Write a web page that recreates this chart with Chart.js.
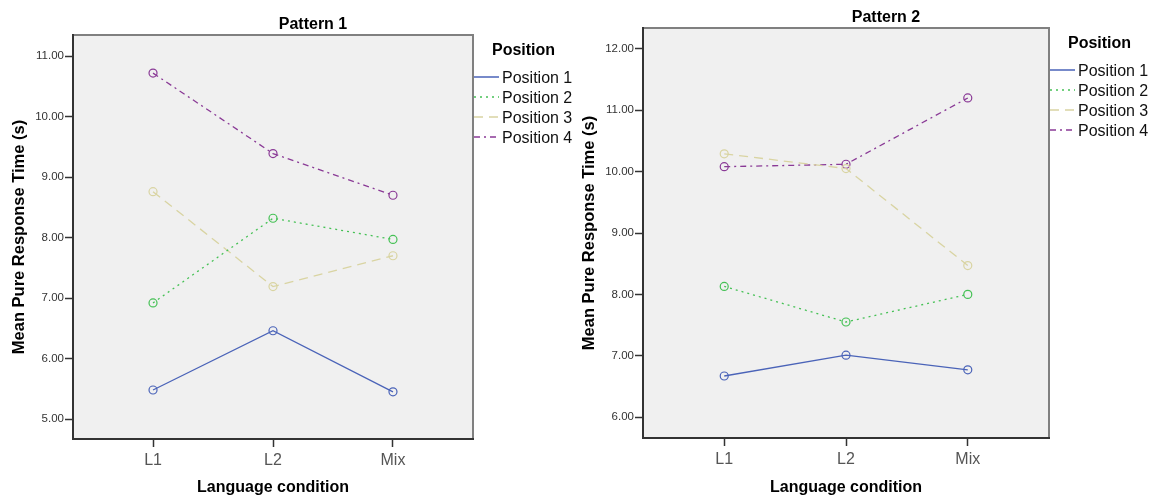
<!DOCTYPE html>
<html>
<head>
<meta charset="utf-8">
<script src="https://cdn.jsdelivr.net/npm/chart.js@4.4.0/dist/chart.umd.min.js"></script>
<style>
  html, body { margin: 0; padding: 0; background: #fff; overflow: hidden; }
  .box { position: absolute; top: 0; height: 497px; }
</style>
</head>
<body>
<div class="box" style="left:0;width:590px"><canvas id="chart1" width="590" height="497"></canvas></div>
<div class="box" style="left:570px;width:583px"><canvas id="chart2" width="583" height="497"></canvas></div>
<script>
// Veriler
const kosullar = ['L1', 'L2', 'Mix'];
const pozisyonlar = ['Position 1', 'Position 2', 'Position 3', 'Position 4'];

// Pattern 1
const p1_pos1 = [5.48, 6.46, 5.45];
const p1_pos2 = [6.92, 8.32, 7.97];
const p1_pos3 = [8.76, 7.19, 7.70];
const p1_pos4 = [10.72, 9.39, 8.70];

// Pattern 2
const p2_pos1 = [6.67, 7.01, 6.77];
const p2_pos2 = [8.13, 7.55, 8.00];
const p2_pos3 = [10.29, 10.05, 8.47];
const p2_pos4 = [10.08, 10.12, 11.20];

const renkler = ['#4a63b8', '#45c155', '#d9d4a2', '#8a3a96'];
const cizgiTipleri = [[], [2, 4], [9, 6], [6, 4, 2, 4]];

const FONT = '"Liberation Sans", Arial, sans-serif';

function seriYap(seriler) {
    return seriler.map((vals, i) => ({
        label: pozisyonlar[i],
        data: vals.map((v, k) => ({ x: k, y: v })),
        borderColor: renkler[i],
        borderWidth: 1.3,
        borderDash: cizgiTipleri[i],
        pointRadius: 4,
        pointHoverRadius: 4,
        pointBorderWidth: 1.2,
        pointBorderColor: renkler[i],
        pointBackgroundColor: 'rgba(0,0,0,0)',
        tension: 0,
        fill: false
    }));
}

// Arka plan, çerçeve, başlık ve lejant
const spssPlugin = {
    id: 'spss',
    beforeDraw(chart) {
        const a = chart.chartArea;
        const ctx = chart.ctx;
        ctx.save();
        ctx.fillStyle = '#f0f0f0';
        ctx.fillRect(a.left, a.top, a.right - a.left, a.bottom - a.top);
        ctx.strokeStyle = '#808080';
        ctx.lineWidth = 2;
        ctx.beginPath();
        ctx.moveTo(a.left, a.top);
        ctx.lineTo(a.right, a.top);
        ctx.lineTo(a.right, a.bottom);
        ctx.stroke();
        ctx.restore();
    },
    afterDraw(chart, args, opts) {
        const a = chart.chartArea;
        const ctx = chart.ctx;
        ctx.save();
        // başlık
        ctx.fillStyle = '#000';
        ctx.font = 'bold 16px ' + FONT;
        ctx.textAlign = 'center';
        ctx.textBaseline = 'middle';
        ctx.fillText(opts.baslik, (a.left + a.right) / 2 + 40, a.top - 10);
        // lejant
        const x0 = a.right;
        ctx.textAlign = 'left';
        ctx.fillText('Position', x0 + 19, a.top + 16);
        ctx.font = '16px ' + FONT;
        chart.data.datasets.forEach((ds, i) => {
            const y = a.top + 43 + i * 20;
            ctx.strokeStyle = ds.borderColor;
            ctx.lineWidth = 1.5;
            ctx.setLineDash(ds.borderDash);
            ctx.beginPath();
            ctx.moveTo(x0 + 1, y - 1);
            ctx.lineTo(x0 + 26, y - 1);
            ctx.stroke();
            ctx.setLineDash([]);
            ctx.fillStyle = '#111';
            ctx.fillText(ds.label, x0 + 29, y + 1);
        });
        ctx.restore();
    }
};

function grafikCiz(id, seriler, baslik, yMin, yMax, ustBosluk, sagBosluk, altYukseklik) {
    const ctx = document.getElementById(id).getContext('2d');
    return new Chart(ctx, {
        type: 'line',
        data: { datasets: seriYap(seriler) },
        plugins: [spssPlugin],
        options: {
            responsive: false,
            animation: false,
            layout: { padding: { top: ustBosluk, right: sagBosluk, left: 0, bottom: 0 } },
            plugins: {
                legend: { display: false },
                title: { display: false },
                tooltip: { enabled: false },
                spss: { baslik: baslik }
            },
            scales: {
                x: {
                    type: 'linear',
                    min: -0.667,
                    max: 2.667,
                    afterFit: s => { s.height = altYukseklik; },
                    grid: { drawOnChartArea: false, tickLength: 8, tickColor: '#333', tickWidth: 1.5 },
                    border: { color: '#333', width: 2 },
                    ticks: {
                        stepSize: 1,
                        includeBounds: false,
                        maxRotation: 0,
                        padding: 4,
                        color: '#555',
                        font: { family: FONT, size: 16 },
                        callback: v => kosullar[v]
                    },
                    title: {
                        display: true,
                        text: 'Language condition',
                        color: '#000',
                        padding: { top: 4, bottom: 0 },
                        font: { family: FONT, size: 16, weight: 'bold' }
                    }
                },
                y: {
                    min: yMin,
                    max: yMax,
                    afterFit: s => { s.width = 73; },
                    grid: { drawOnChartArea: false, tickLength: 8, tickColor: '#333', tickWidth: 1.5 },
                    border: { color: '#333', width: 2 },
                    ticks: {
                        stepSize: 1,
                        includeBounds: false,
                        padding: 1,
                        color: '#333',
                        font: { family: FONT, size: 11.5 },
                        callback: v => v.toFixed(2)
                    },
                    title: {
                        display: true,
                        text: 'Mean Pure Response Time (s)',
                        color: '#000',
                        padding: { top: 10, bottom: 4 },
                        font: { family: FONT, size: 16.5, weight: 'bold' }
                    }
                }
            }
        }
    });
}

grafikCiz('chart1', [p1_pos1, p1_pos2, p1_pos3, p1_pos4], 'Pattern 1', 4.67, 11.35, 35, 117, 58);
grafikCiz('chart2', [p2_pos1, p2_pos2, p2_pos3, p2_pos4], 'Pattern 2', 5.66, 12.34, 28, 104, 59);
</script>
</body>
</html>
